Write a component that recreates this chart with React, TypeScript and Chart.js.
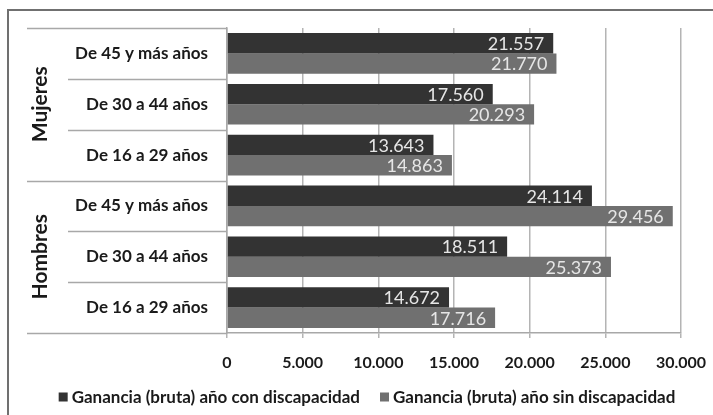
import React, { useEffect, useRef } from "react";
import { Chart, registerables } from "chart.js";
Chart.register(...registerables);

const categories = [
  "De 45 y más años",
  "De 30 a 44 años",
  "De 16 a 29 años",
  "De 45 y más años",
  "De 30 a 44 años",
  "De 16 a 29 años",
];
const groups = ["Mujeres", "Hombres"];
const conDiscapacidad = [21557, 17560, 13643, 24114, 18511, 14672];
const sinDiscapacidad = [21770, 20293, 14863, 29456, 25373, 17716];
const seriesNames = [
  "Ganancia (bruta) año con discapacidad",
  "Ganancia (bruta) año sin discapacidad",
];
const seriesColors = ["#333333", "#707070"];
const xTicks = [0, 5000, 10000, 15000, 20000, 25000, 30000];

const FONT = "Lato, 'Liberation Sans', sans-serif";

function fmt(v: number): string {
  return Math.round(v)
    .toString()
    .replace(/\B(?=(\d{3})+(?!\d))/g, ".");
}

const decorPlugin = {
  id: "decor",
  beforeDraw(chart: any) {
    const ctx = chart.ctx;
    ctx.save();
    ctx.fillStyle = "#ffffff";
    ctx.fillRect(0, 0, chart.width, chart.height);
    ctx.restore();
  },
  afterDraw(chart: any) {
    const ctx = chart.ctx;
    const y = chart.scales.y;
    const area = chart.chartArea;
    const n = categories.length;
    const bound = (i: number) => {
      if (i <= 0) return area.top;
      if (i >= n) return area.bottom;
      return (y.getPixelForValue(i - 1) + y.getPixelForValue(i)) / 2;
    };
    ctx.save();
    ctx.strokeStyle = "#a8a8a8";
    ctx.lineWidth = 1.5;
    for (let i = 0; i <= n; i++) {
      const yy = Math.round(bound(i)) + 0.5;
      const isGroup = i % 3 === 0;
      ctx.beginPath();
      ctx.moveTo(isGroup ? 27 : 68, yy);
      ctx.lineTo(area.left, yy);
      ctx.stroke();
    }
    // group labels
    ctx.fillStyle = "#1a1a1a";
    ctx.font = "bold 21px " + FONT;
    ctx.textAlign = "center";
    ctx.textBaseline = "middle";
    groups.forEach((g, gi) => {
      const cy = (bound(gi * 3) + bound(gi * 3 + 3)) / 2;
      ctx.save();
      ctx.translate(40, cy);
      ctx.rotate(-Math.PI / 2);
      ctx.fillText(g, 0, 0);
      ctx.restore();
    });
    // legend
    ctx.font = "bold 17px " + FONT;
    ctx.textAlign = "left";
    const box = 9;
    const gapText = 4;
    const gapItem = 20;
    const widths = seriesNames.map((s) => ctx.measureText(s).width);
    const total =
      widths.reduce((a, b) => a + b, 0) + seriesNames.length * (box + gapText) + gapItem;
    let x = 367 - total / 2;
    const ly = 397;
    seriesNames.forEach((s, i) => {
      ctx.fillStyle = seriesColors[i];
      ctx.fillRect(x, ly - box / 2, box, box);
      x += box + gapText;
      ctx.fillStyle = "#1a1a1a";
      ctx.fillText(s, x, ly + 1);
      x += widths[i] + gapItem;
    });
    // outer frame
    ctx.strokeStyle = "#707070";
    ctx.lineWidth = 2;
    ctx.strokeRect(8, 10, chart.width + 20, chart.height + 20);
    ctx.restore();
  },
  afterDatasetsDraw(chart: any) {
    const ctx = chart.ctx;
    ctx.save();
    ctx.font = "18px " + FONT;
    ctx.fillStyle = "#e6e6e6";
    ctx.textAlign = "right";
    ctx.textBaseline = "middle";
    chart.data.datasets.forEach((ds: any, di: number) => {
      const meta = chart.getDatasetMeta(di);
      meta.data.forEach((bar: any, i: number) => {
        ctx.fillText(fmt(ds.data[i]), bar.x - 9, bar.y + 1);
      });
    });
    ctx.restore();
  },
};

export default function App() {
  const ref = useRef<HTMLCanvasElement | null>(null);
  useEffect(() => {
    if (!ref.current) return;
    const chart = new Chart(ref.current, {
      type: "bar",
      data: {
        labels: categories,
        datasets: seriesNames.map((name, i) => ({
          label: name,
          data: i === 0 ? conDiscapacidad : sinDiscapacidad,
          backgroundColor: seriesColors[i],
          categoryPercentage: 0.8,
          barPercentage: 1.0,
        })),
      },
      options: {
        indexAxis: "y",
        animation: false,
        responsive: false,
        layout: { padding: { left: 57, right: 32, top: 28, bottom: 42 } },
        scales: {
          x: {
            min: 0,
            max: 30000,
            afterBuildTicks: (scale: any) => {
              scale.ticks = xTicks.map((v) => ({ value: v }));
            },
            afterFit: (scale: any) => {
              scale.height = 40;
              scale.paddingLeft = 0;
              scale.paddingRight = 0;
            },
            ticks: {
              callback: (v: any) => fmt(Number(v)),
              color: "#1a1a1a",
              font: { family: FONT, size: 16, weight: "bold" },
              padding: 15,
              maxRotation: 0,
            },
            grid: {
              color: "#b4b4b4",
              lineWidth: 1.5,
              tickLength: 5,
              drawTicks: true,
            },
            border: { display: true, color: "#a8a8a8", width: 1.5 },
          },
          y: {
            afterFit: (scale: any) => {
              scale.width = 170;
              scale.paddingTop = 0;
              scale.paddingBottom = 0;
            },
            ticks: {
              color: "#1a1a1a",
              font: { family: FONT, size: 17, weight: "bold" },
              padding: 19,
            },
            grid: { display: false, drawTicks: false },
            border: { display: true, color: "#a8a8a8", width: 1.5 },
          },
        },
        plugins: {
          legend: { display: false },
          tooltip: { enabled: false },
        },
      },
      plugins: [decorPlugin],
    } as any);
    return () => chart.destroy();
  }, []);
  return (
    <div style={{ position: "absolute", left: 0, top: 0, width: 713, height: 415 }}>
      <canvas ref={ref} width={713} height={415} style={{ width: 713, height: 415 }} />
    </div>
  );
}
